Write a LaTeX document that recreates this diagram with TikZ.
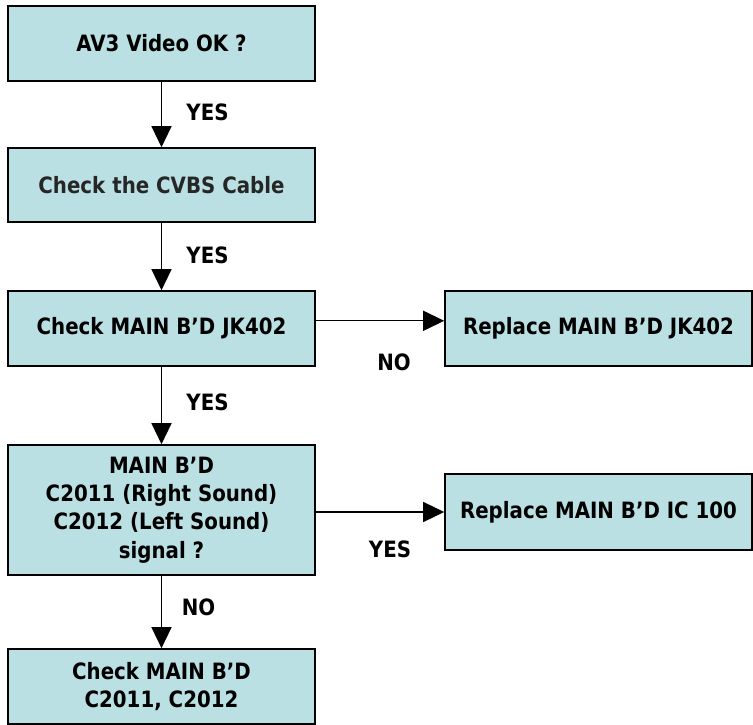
\documentclass[tikz,border=0pt]{standalone}
\usepackage{fontspec}
\usetikzlibrary{arrows.meta}
\newfontfamily\tfont{DejaVu Sans Bold}[FakeStretch=0.88]
\definecolor{boxfill}{RGB}{186,224,228}
\definecolor{darktxt}{RGB}{38,38,38}
\tikzset{
  box/.style={draw=black, line width=1.6pt, fill=boxfill, minimum width=307pt,
    minimum height=75pt, inner sep=0pt, align=center,
    font=\tfont\fontsize{22.5}{28.3}\selectfont},
  lbl/.style={inner sep=0pt, font=\tfont\fontsize{22.5}{27}\selectfont},
  arr/.style={line width=1.3pt, -{Triangle[width=20pt,length=21pt]}}
}
\begin{document}
\begin{tikzpicture}[x=1pt,y=-1pt]
\useasboundingbox (0,0) rectangle (753,725);
\node[box] (b1) at (161.5,43.5) {AV3 Video OK ?};
\node[box, text=darktxt, minimum height=74pt] (b2) at (161.5,185) {Check the CVBS Cable};
\node[box] (b3) at (161.5,328.5) {Check MAIN B’D JK402};
\node[box] (r1) at (598.5,328.5) {Replace MAIN B’D JK402};
\node[box, minimum height=130pt] (b4) at (161.5,510) {MAIN B’D\\C2011 (Right Sound)\\C2012 (Left Sound)\\signal ?};
\node[box, minimum height=76pt] (r2) at (598.5,512) {Replace MAIN B’D IC 100};
\node[box] (b5) at (161.5,686.5) {Check MAIN B’D\\C2011, C2012};

\draw[arr] (b1) -- (b2);
\draw[arr] (b2) -- (b3);
\draw[arr] (b3) -- (b4);
\draw[arr] (b4) -- (b5);
\draw[arr] ([yshift=7.7pt]b3.east) -- ([yshift=7.7pt]r1.west);
\draw[arr] ([yshift=-2pt]b4.east) -- (r2.west);

\node[lbl] (y1) at (207.5,112.5) {YES};
\node[lbl] (y2) at (207.5,255) {YES};
\node[lbl] (n1) at (394,362) {NO};
\node[lbl] (y3) at (207.5,402) {YES};
\node[lbl] (n2) at (198.5,607.5) {NO};
\node[lbl] (y4) at (390,549) {YES};
\end{tikzpicture}
\end{document}
